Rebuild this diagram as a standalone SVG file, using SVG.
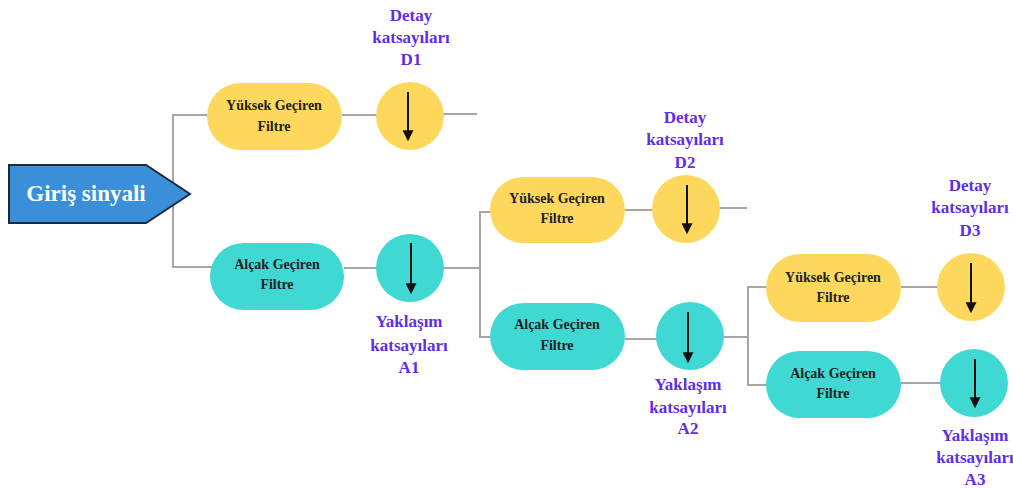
<svg xmlns="http://www.w3.org/2000/svg" width="1013" height="489" viewBox="0 0 1013 489">
<style>
.bg{fill:#ffffff}
.hp{fill:#fdd85d}
.lp{fill:#40d8d3}
.conn{stroke:#a6a6a6;stroke-width:2;fill:none}
.dn{stroke:#111;stroke-width:2;marker-end:url(#ah)}
.nt{font-family:"Liberation Serif",serif;font-weight:bold;font-size:14px;fill:#222;text-anchor:middle}
.lb{font-family:"Liberation Serif",serif;font-weight:bold;font-size:17px;fill:#5e2ee6;text-anchor:middle}
.in{font-family:"Liberation Serif",serif;font-weight:bold;font-size:23px;fill:#ffffff;text-anchor:middle}
</style>
<defs>
<marker id="ah" viewBox="0 0 10 10" refX="8" refY="5" markerWidth="5.5" markerHeight="5.5" orient="auto" markerUnits="strokeWidth">
<path d="M0,0 L10,5 L0,10 z" fill="#111"/>
</marker>
</defs>
<rect class="bg" x="0" y="0" width="1013" height="489"/>
<g id="connectors">
<polyline class="conn" points="210,115 173,115 173,267 212,267"/>
<line class="conn" x1="342" y1="115" x2="380" y2="115"/>
<line class="conn" x1="439" y1="114" x2="477" y2="114"/>
<line class="conn" x1="344" y1="268" x2="380" y2="268"/>
<polyline class="conn" points="443,268 480,268"/>
<polyline class="conn" points="503,212 480,212 480,337 494,337"/>
<line class="conn" x1="625" y1="210" x2="663" y2="210"/>
<line class="conn" x1="709" y1="208" x2="747" y2="208"/>
<line class="conn" x1="625" y1="339" x2="660" y2="339"/>
<line class="conn" x1="708" y1="337" x2="748" y2="337"/>
<polyline class="conn" points="770,287 748,287 748,385 770,385"/>
<line class="conn" x1="901" y1="287" x2="940" y2="287"/>
<line class="conn" x1="901" y1="383" x2="942" y2="383"/>
</g>
<g id="input">
<polygon points="9,165 146,165 190,194 146,223 9,223" fill="#3a8fd8" stroke="#1a2a40" stroke-width="2"/>
<text class="in" x="86" y="201">Giriş sinyali</text>
</g>
<g id="hp1">
<rect class="hp" x="207" y="83" width="135" height="67" rx="33.5"/>
<text class="nt" x="274" y="110">Yüksek Geçiren</text>
<text class="nt" x="274" y="131">Filtre</text>
</g>
<g id="d1">
<circle class="hp" cx="410" cy="116" r="34"/>
<line class="dn" x1="408" y1="92" x2="408" y2="139"/>
<text class="lb" x="411" y="21">Detay</text>
<text class="lb" x="411" y="43">katsayıları</text>
<text class="lb" x="411" y="65">D1</text>
</g>
<g id="lp1">
<rect class="lp" x="210" y="243" width="134" height="67" rx="33.5"/>
<text class="nt" x="277" y="269">Alçak Geçiren</text>
<text class="nt" x="277" y="289">Filtre</text>
</g>
<g id="a1">
<circle class="lp" cx="410" cy="268" r="34"/>
<line class="dn" x1="411" y1="243" x2="411" y2="292"/>
<text class="lb" x="409" y="327">Yaklaşım</text>
<text class="lb" x="409" y="351">katsayıları</text>
<text class="lb" x="409" y="373">A1</text>
</g>
<g id="hp2">
<rect class="hp" x="490" y="177" width="135" height="66" rx="33"/>
<text class="nt" x="557" y="203">Yüksek Geçiren</text>
<text class="nt" x="557" y="223">Filtre</text>
</g>
<g id="d2">
<circle class="hp" cx="686" cy="209" r="34"/>
<line class="dn" x1="687" y1="185" x2="687" y2="232"/>
<text class="lb" x="685" y="123">Detay</text>
<text class="lb" x="685" y="145">katsayıları</text>
<text class="lb" x="685" y="168">D2</text>
</g>
<g id="lp2">
<rect class="lp" x="490" y="303" width="135" height="67" rx="33.5"/>
<text class="nt" x="557" y="329">Alçak Geçiren</text>
<text class="nt" x="557" y="350">Filtre</text>
</g>
<g id="a2">
<circle class="lp" cx="690" cy="336" r="34"/>
<line class="dn" x1="688" y1="312" x2="688" y2="361"/>
<text class="lb" x="688" y="390">Yaklaşım</text>
<text class="lb" x="688" y="413">katsayıları</text>
<text class="lb" x="688" y="434">A2</text>
</g>
<g id="hp3">
<rect class="hp" x="766" y="254" width="135" height="68" rx="34"/>
<text class="nt" x="833" y="282">Yüksek Geçiren</text>
<text class="nt" x="833" y="302">Filtre</text>
</g>
<g id="d3">
<circle class="hp" cx="971" cy="287" r="34"/>
<line class="dn" x1="971" y1="263" x2="971" y2="311"/>
<text class="lb" x="970" y="191">Detay</text>
<text class="lb" x="970" y="213">katsayıları</text>
<text class="lb" x="970" y="236">D3</text>
</g>
<g id="lp3">
<rect class="lp" x="766" y="351" width="135" height="67" rx="33.5"/>
<text class="nt" x="833" y="378">Alçak Geçiren</text>
<text class="nt" x="833" y="398">Filtre</text>
</g>
<g id="a3">
<circle class="lp" cx="974" cy="383" r="34"/>
<line class="dn" x1="975" y1="359" x2="975" y2="406"/>
<text class="lb" x="975" y="441">Yaklaşım</text>
<text class="lb" x="975" y="463">katsayıları</text>
<text class="lb" x="975" y="485">A3</text>
</g>
</svg>
